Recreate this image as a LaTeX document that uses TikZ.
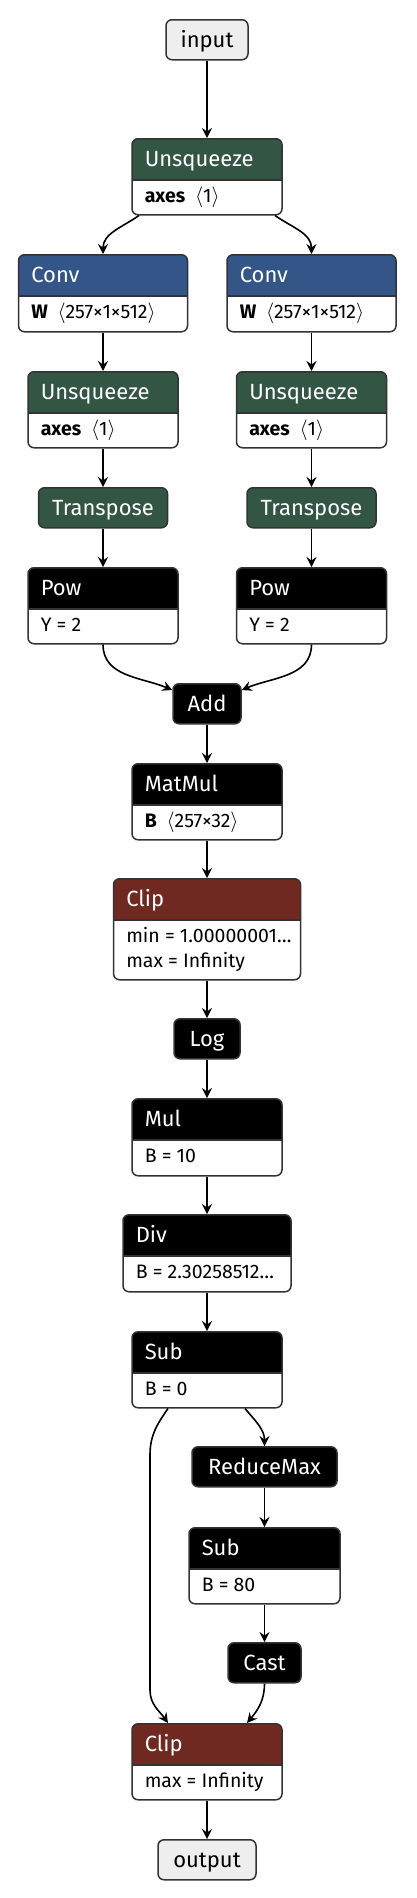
\documentclass[tikz,border=0pt]{standalone}
\usepackage{fontspec}
\setmainfont{Fira Sans}
\usetikzlibrary{arrows.meta}
\definecolor{nodeline}{RGB}{51,51,51}
\definecolor{iofill}{RGB}{238,238,238}
\definecolor{layerblue}{RGB}{51,85,136}
\definecolor{shapegreen}{RGB}{51,85,68}
\definecolor{actred}{RGB}{112,41,33}
\newcommand{\headfont}{\fontsize{22}{26}\selectfont}
\newcommand{\attrfont}{\fontsize{19.5}{25}\selectfont}
\newcommand{\shp}[1]{\enspace$\langle$#1$\rangle$}
\begin{document}
\begin{tikzpicture}[x=1pt,y=-1pt,
  op/.style n args={5}{draw=nodeline, line width=1.5pt, rounded corners=6pt, fill=white,
    minimum width=#1, minimum height=#2, inner sep=0pt, anchor=north,
    path picture={
      \fill[#3, sharp corners] (path picture bounding box.north west) rectangle ([yshift=-41pt]path picture bounding box.north east);
      \draw[nodeline, line width=1.5pt, sharp corners] ([yshift=-41pt]path picture bounding box.north west) -- ([yshift=-41pt]path picture bounding box.north east);
      \node[anchor=base west, inner sep=0pt, minimum size=0pt, text=white, font=\headfont] at ([xshift=12pt,yshift=-28pt]path picture bounding box.north west) {#4};
      \node[anchor=base west, inner sep=0pt, minimum size=0pt, font=\attrfont] at ([xshift=12pt,yshift=-64pt]path picture bounding box.north west) {#5};
    }},
  tag/.style={draw=nodeline, line width=1.5pt, rounded corners=6pt, fill=black, text=white,
    font=\headfont, inner sep=0pt, minimum height=40pt, text height=15pt, text depth=0pt, anchor=north},
  io/.style={tag, fill=iofill, text=black},
  flow/.style={line width=1.6pt, -{Stealth[length=10pt,width=10pt,inset=3.5pt]}}]
\useasboundingbox (0,0) rectangle (416,1898);

\node[io, minimum width=82pt] (input) at (207,19) {input};
\node[op={150pt}{76pt}{shapegreen}{Unsqueeze}{\textbf{axes}\shp{1}}] (unsq) at (207,138) {};

% two conv branches
\node[op={169pt}{77pt}{layerblue}{Conv}{\textbf{W}\shp{257×1×512}}] (convL) at (103,254) {};
\node[op={169pt}{77pt}{layerblue}{Conv}{\textbf{W}\shp{257×1×512}}] (convR) at (311.5,254) {};
\node[op={150pt}{76pt}{shapegreen}{Unsqueeze}{\textbf{axes}\shp{1}}] (unsqL) at (103,371) {};
\node[op={150pt}{76pt}{shapegreen}{Unsqueeze}{\textbf{axes}\shp{1}}] (unsqR) at (311.5,371) {};
\node[tag, fill=shapegreen, minimum width=129pt] (transL) at (103,487) {Transpose};
\node[tag, fill=shapegreen, minimum width=129pt] (transR) at (311.5,487) {Transpose};
\node[op={150pt}{76pt}{black}{Pow}{Y = 2}] (powL) at (103,567) {};
\node[op={150pt}{76pt}{black}{Pow}{Y = 2}] (powR) at (311.5,567) {};

\node[tag, minimum width=68pt] (add) at (207,683) {Add};
\node[op={150pt}{76pt}{black}{MatMul}{\textbf{B}\shp{257×32}}] (matmul) at (207,763) {};
\node[op={187pt}{101pt}{actred}{Clip}{\vtop{\hbox{min = 1.00000001…}\hbox{max = Infinity}}}] (clipA) at (207,878) {};
\node[tag, minimum width=66pt] (log) at (207,1018) {Log};
\node[op={150pt}{77pt}{black}{Mul}{B = 10}] (mul) at (207,1098) {};
\node[op={168pt}{77pt}{black}{Div}{B = 2.30258512…}] (div) at (207,1214) {};
\node[op={150pt}{76pt}{black}{Sub}{B = 0}] (sub) at (207,1331) {};

% max branch
\node[tag, minimum width=145pt] (rmax) at (264.5,1446) {ReduceMax};
\node[op={151pt}{76pt}{black}{Sub}{B = 80}] (subB) at (264.5,1527) {};
\node[tag, minimum width=73pt] (cast) at (264.5,1642) {Cast};

\node[op={150pt}{76pt}{actred}{Clip}{max = Infinity}] (clipB) at (207,1723) {};
\node[io, minimum width=98pt] (output) at (207,1839) {output};

\draw[flow] (input.south) -- (unsq.north);
\draw[flow] ([xshift=-68pt]unsq.south) to[out=-145,in=90] (convL.north);
\draw[flow] ([xshift=68pt]unsq.south) to[out=-35,in=90] (convR.north);
\draw[flow] (convL.south) -- (unsqL.north);
\draw[flow] (convR.south) -- (unsqR.north);
\draw[flow] (unsqL.south) -- (transL.north);
\draw[flow] (unsqR.south) -- (transR.north);
\draw[flow] (transL.south) -- (powL.north);
\draw[flow] (transR.south) -- (powR.north);
\draw[flow] (powL.south) to[out=-90,in=157] ([yshift=-7pt]add.north west);
\draw[flow] (powR.south) to[out=-90,in=23] ([yshift=-7pt]add.north east);
\draw[flow] (add.south) -- (matmul.north);
\draw[flow] (matmul.south) -- (clipA.north);
\draw[flow] (clipA.south) -- (log.north);
\draw[flow] (log.south) -- (mul.north);
\draw[flow] (mul.south) -- (div.north);
\draw[flow] (div.south) -- (sub.north);
\draw[flow] ([xshift=38pt]sub.south) to[out=-50,in=90] (rmax.north);
\draw[flow] (rmax.south) -- (subB.north);
\draw[flow] (subB.south) -- (cast.north);
\draw[flow] (cast.south) to[out=-90,in=50] ([xshift=40pt]clipB.north);
\draw[flow] ([xshift=-39pt]sub.south) to[out=-125,in=90] (150,1455) -- (150,1690) to[out=-90,in=125] ([xshift=-39pt]clipB.north);
\draw[flow] (clipB.south) -- (output.north);
\end{tikzpicture}
\end{document}
